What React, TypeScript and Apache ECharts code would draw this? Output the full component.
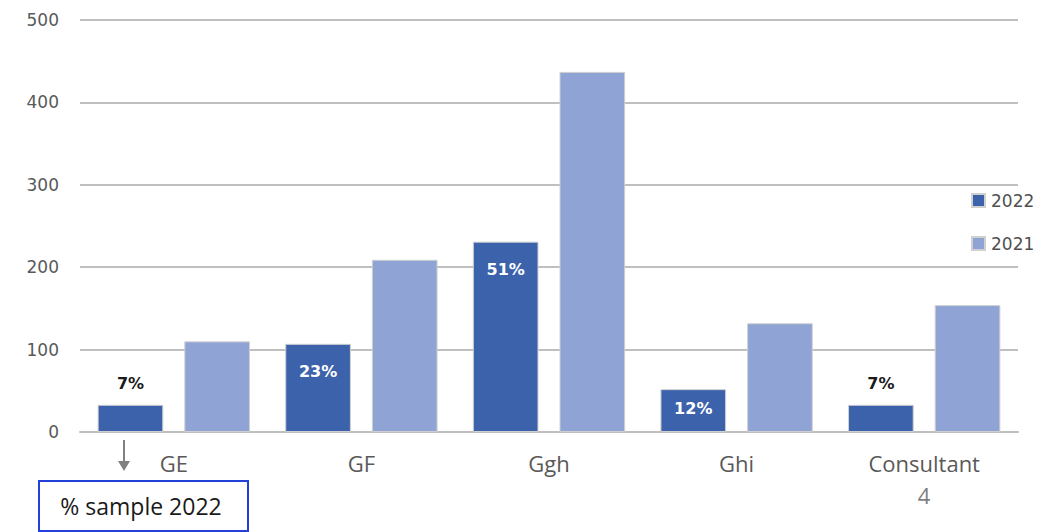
import React, { useEffect, useRef } from "react";
import * as echarts from "echarts";

const categories = ["GE", "GF", "Ggh", "Ghi", "Consultant"];
const values2022 = [33, 107, 231, 52, 33];
const values2021 = [110, 209, 437, 132, 154];
const shares2022 = ["7%", "23%", "51%", "12%", "7%"];
const yTicks = [0, 100, 200, 300, 400, 500];

const TEXT_FONT = "'Open Sans', sans-serif";
const NUM_FONT = "'DejaVu Sans', sans-serif";

export default function App() {
  const ref = useRef<HTMLDivElement>(null);

  useEffect(() => {
    if (!ref.current) return;
    const chart = echarts.init(ref.current, null, { renderer: "svg" });

    // labels inside bars for tall bars, above bars for short ones
    const data2022 = values2022.map((v, i) => {
      const outside = v < 40;
      return {
        value: v,
        label: {
          show: true,
          formatter: shares2022[i],
          position: outside ? "top" : "insideTop",
          distance: outside ? 13 : v < 80 ? 11 : 20,
          color: outside ? "#1a1a1a" : "#ffffff",
          fontWeight: "bold",
          fontSize: 16,
          fontFamily: NUM_FONT,
        },
      };
    });

    chart.setOption({
      animation: false,
      grid: { left: 80, right: 46, top: 20, bottom: 100 },
      legend: {
        orient: "vertical",
        left: 971,
        top: 192,
        padding: 0,
        itemWidth: 13,
        itemHeight: 13,
        itemGap: 26,
        icon: "rect",
        textStyle: { color: "#505050", fontSize: 17, fontFamily: NUM_FONT, padding: [0, 0, 0, 1] },
        data: ["2022", "2021"],
      },
      xAxis: {
        type: "category",
        data: categories,
        axisLine: { lineStyle: { color: "#bfbfbf", width: 2 } },
        axisTick: { show: false },
        axisLabel: { color: "#595959", fontSize: 22, fontFamily: TEXT_FONT, margin: 20 },
      },
      yAxis: {
        type: "value",
        min: yTicks[0],
        max: yTicks[yTicks.length - 1],
        interval: 100,
        axisLine: { show: false },
        axisTick: { show: false },
        axisLabel: { color: "#595959", fontSize: 17, fontFamily: NUM_FONT, margin: 21 },
        splitLine: { lineStyle: { color: "#bfbfbf", width: 2 } },
      },
      series: [
        {
          name: "2022",
          type: "bar",
          data: data2022,
          barWidth: "35%",
          barGap: "32%",
          itemStyle: { color: "#3b62ab", borderColor: "#d0d0d0", borderWidth: 1 },
        },
        {
          name: "2021",
          type: "bar",
          data: values2021,
          barWidth: "35%",
          itemStyle: { color: "#8fa4d4", borderColor: "#d0d0d0", borderWidth: 1 },
        },
      ],
      graphic: [
        {
          type: "line",
          shape: { x1: 124, y1: 440, x2: 124, y2: 466 },
          style: { stroke: "#808080", lineWidth: 2 },
        },
        {
          type: "polygon",
          shape: { points: [[118, 461], [130, 461], [124, 471]] },
          style: { fill: "#808080" },
        },
        {
          type: "rect",
          shape: { x: 39, y: 481, width: 209, height: 50 },
          style: { fill: "#ffffff", stroke: "#2340d8", lineWidth: 2 },
        },
        {
          type: "text",
          x: 141,
          y: 506,
          style: {
            text: "% sample 2022",
            fill: "#1a1a1a",
            fontSize: 23,
            fontFamily: TEXT_FONT,
            align: "center",
            verticalAlign: "middle",
          },
        },
        {
          type: "text",
          x: 924,
          y: 495,
          style: {
            text: "4",
            fill: "#7f7f7f",
            fontSize: 22,
            fontFamily: TEXT_FONT,
            align: "center",
            verticalAlign: "middle",
          },
        },
      ],
    });

    return () => chart.dispose();
  }, []);

  return (
    <div
      ref={ref}
      style={{ position: "fixed", left: 0, top: 0, width: 1064, height: 532, background: "#fff" }}
    />
  );
}
